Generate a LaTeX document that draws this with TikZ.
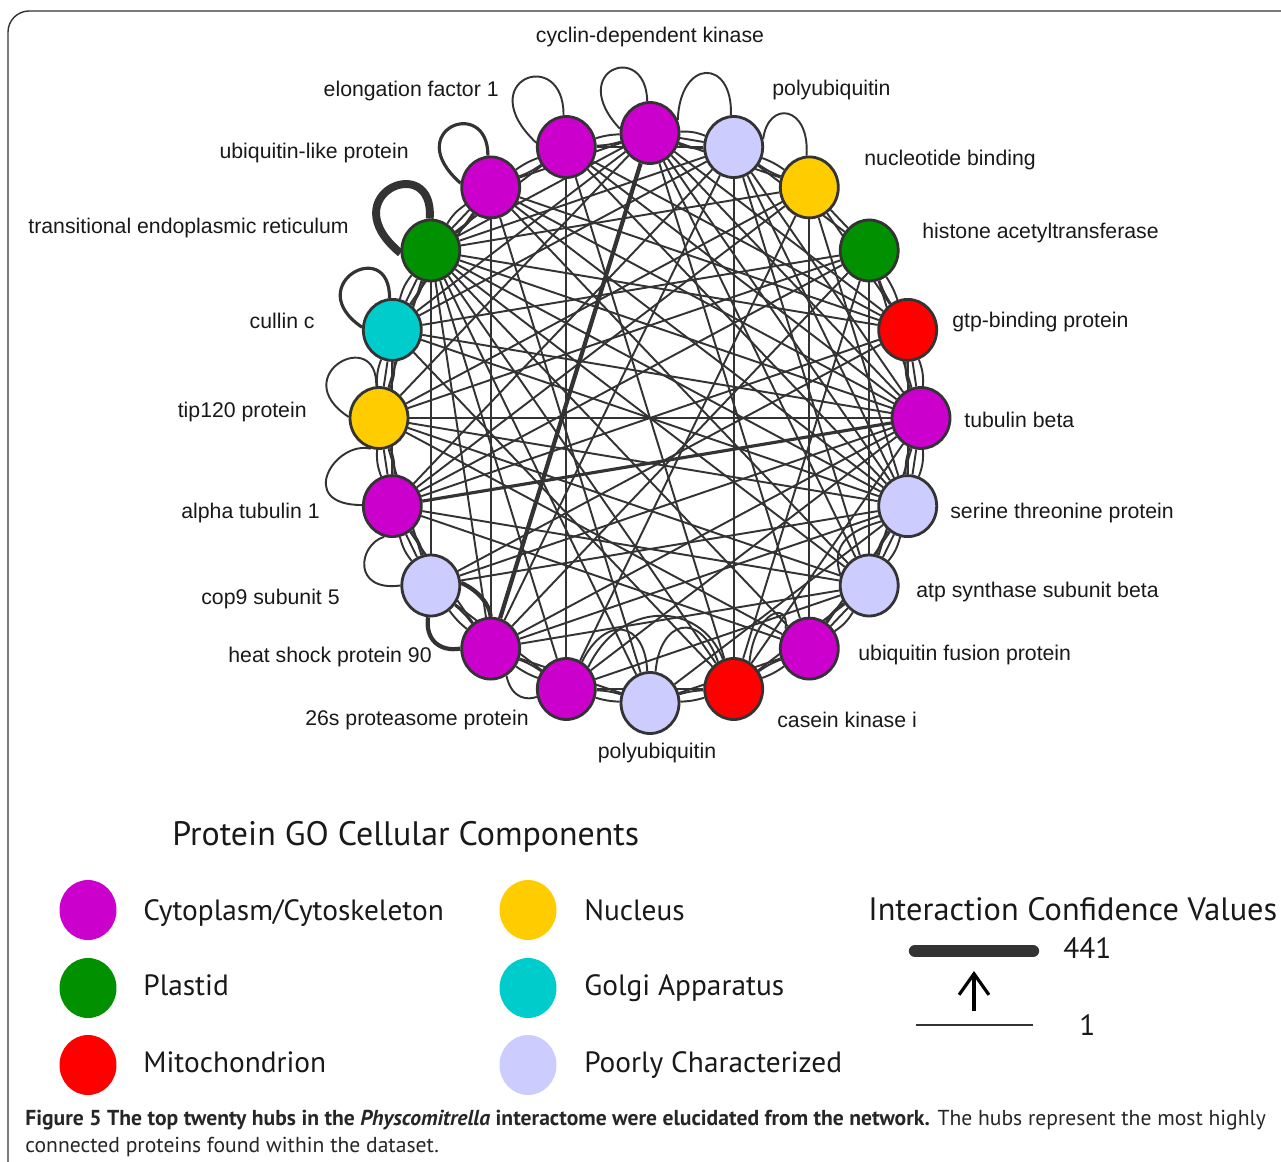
\documentclass[tikz,border=0pt]{standalone}
\usepackage{fontspec}
\setmainfont{Liberation Sans}
\newfontfamily\legfont{PT Sans}
\usetikzlibrary{shapes.geometric,backgrounds,arrows.meta}
\definecolor{edgec}{HTML}{333333}
\definecolor{cmag}{HTML}{CC00CC}
\definecolor{cgreen}{HTML}{009000}
\definecolor{cyel}{HTML}{FFCC00}
\definecolor{ccyan}{HTML}{00CCCC}
\definecolor{cred}{HTML}{FF0000}
\definecolor{clav}{HTML}{CCCCFF}
\begin{document}
\begin{tikzpicture}[x=0.02cm,y=0.02cm,
  hub/.style={ellipse, draw=edgec, line width=1.6pt, minimum width=1.16cm, minimum height=1.22cm, inner sep=0pt},
  lab/.style={font=\fontsize{12.1}{14}\selectfont, inner sep=0pt, text=black!90},
  edge/.style={draw=edgec, line width=1.1pt},
  medge/.style={draw=edgec, line width=1.8pt},
  tedge/.style={draw=edgec, line width=2.4pt},
  legdot/.style={ellipse, minimum width=1.14cm, minimum height=1.2cm, inner sep=0pt},
  legtxt/.style={font=\legfont\fontsize{16.7}{20}\selectfont, inner sep=0pt, anchor=base west, text=black!90},
  legtitle/.style={font=\legfont\fontsize{19.3}{22}\selectfont, inner sep=0pt, anchor=base west, text=black!90},
  inttitle/.style={font=\legfont\fontsize{18.4}{22}\selectfont, inner sep=0pt, anchor=base west, text=black!90},
  captxt/.style={font=\legfont\fontsize{12.3}{14}\selectfont, inner sep=0pt, anchor=base west, text=black!85}]
\useasboundingbox (0,0) rectangle (1281,-1162);
% hubs
\node[hub, fill=cmag]  (cdk)  at (650,-133) {};
\node[hub, fill=clav]  (pubA) at (733.7,-147) {};
\node[hub, fill=cyel]  (nuc)  at (809.3,-187.4) {};
\node[hub, fill=cgreen](hat)  at (869.2,-250.5) {};
\node[hub, fill=cred]  (gtp)  at (907.7,-329.9) {};
\node[hub, fill=cmag]  (tubb) at (921,-418) {};
\node[hub, fill=clav]  (ser)  at (907.7,-506.1) {};
\node[hub, fill=clav]  (atp)  at (869.2,-585.5) {};
\node[hub, fill=cmag]  (ufp)  at (809.3,-648.6) {};
\node[hub, fill=cred]  (ck)   at (733.7,-689) {};
\node[hub, fill=clav]  (pubB) at (650,-703) {};
\node[hub, fill=cmag]  (pts)  at (566.3,-689) {};
\node[hub, fill=cmag]  (hsp)  at (490.7,-648.6) {};
\node[hub, fill=clav]  (cop)  at (430.8,-585.5) {};
\node[hub, fill=cmag]  (alt)  at (392.3,-506.1) {};
\node[hub, fill=cyel]  (tip)  at (379,-418) {};
\node[hub, fill=ccyan] (cul)  at (392.3,-329.9) {};
\node[hub, fill=cgreen](ter)  at (430.8,-250.5) {};
\node[hub, fill=cmag]  (ubl)  at (490.7,-187.4) {};
\node[hub, fill=cmag]  (ef)   at (566.3,-147) {};
\begin{scope}[on background layer]
\draw[edgec, line width=0.8pt, rounded corners=12] (8,-1175) -- (8,-11) -- (1295,-11);
% neighbours, triple
\foreach \a/\b in {cdk/pubA, ubl/ter, ter/cul, cul/tip, tip/alt, alt/cop, ufp/atp, atp/ser, ser/tubb, tubb/gtp}{
  \draw[edge] (\a) -- (\b);
  \draw[edge] (\a) to[bend left=12] (\b);
  \draw[edge] (\a) to[bend right=12] (\b);}
% neighbours, double
\foreach \a/\b in {cdk/ef, pubA/nuc, ef/ubl, cop/hsp, hsp/pts, pts/pubB, pubB/ck, ck/ufp, gtp/hat}{
  \draw[edge] (\a) to[bend left=7] (\b);
  \draw[edge] (\a) to[bend right=7] (\b);}
\draw[edge] (hat) -- (nuc);
% second neighbours
\foreach \a/\b in {cdk/nuc, cdk/ubl, pubA/hat, pubA/ef, ef/ter, ubl/cul, ter/tip, cul/alt, tip/cop, alt/hsp, cop/pts, hsp/pubB, pts/ck, pubB/ufp, ck/atp, ufp/ser, atp/tubb, ser/gtp, tubb/hat, gtp/nuc}
  \draw[edge] (\a) -- (\b);
% long chords
\foreach \a/\b in {cdk/ter, cdk/cul, cdk/tip, cdk/gtp, cdk/tubb, cdk/ser, cdk/atp, cdk/ufp,
  pubA/ck, pubA/ter, pubA/cul, pubA/alt, pubA/tubb, pubA/ser, pubA/atp, pubA/hsp,
  nuc/ufp, nuc/ter, nuc/tip, nuc/alt, nuc/pts, nuc/ser,
  hat/atp, hat/tip, hat/cul, hat/alt, hat/hsp, hat/ck,
  gtp/ter, gtp/ubl, gtp/alt, gtp/cop, gtp/ef,
  tubb/tip, tubb/cul, tubb/ter, tubb/ubl, tubb/ef, tubb/cop, tubb/hsp, tubb/pts, tubb/ck,
  ser/ter, ser/cul, ser/tip, ser/cop, ser/hsp, ser/ubl, ser/ef, ser/pubB,
  atp/ter, atp/tip, atp/alt, atp/hsp, atp/ubl, atp/pts,
  ufp/tip, ufp/alt, ufp/ter,
  ck/ter, ck/cul, ck/ef,
  pubB/ter, pubB/ubl,
  pts/ter, pts/ef,
  hsp/ubl, hsp/ter, cop/ter}
  \draw[edge] (\a) -- (\b);
\draw[tedge] (hsp) -- (cdk);
\draw[medge] (alt) -- (tubb);
% loops and outer arcs
\draw[edge] (ef.95) .. controls (564,-45) and (470,-80) .. (ef.172);
\draw[edge] (cdk.95) .. controls (646,-40) and (565,-70) .. (cdk.172);
\draw[edge] (pubA.95) .. controls (733,-58) and (680,-58) .. (cdk.25);
\draw[edge] (nuc.95) .. controls (810,-105) and (768,-100) .. (pubA.15);
\draw[medge] (ubl.95) .. controls (488,-95) and (400,-130) .. (ubl.172);
\draw[draw=edgec, line width=4.5pt] (ter.92) .. controls (435,-150) and (330,-195) .. (ter.185);
\draw[medge] (cul.95) .. controls (390,-235) and (300,-285) .. (cul.175);
\draw[edge] (tip.95) .. controls (378,-325) and (285,-375) .. (tip.178);
\draw[edge] (tip.255) .. controls (335,-440) and (295,-505) .. (alt.178);
\draw[edge] (alt.255) .. controls (358,-545) and (352,-592) .. (cop.180);
\draw[tedge] (cop.265) .. controls (425,-640) and (440,-652) .. (hsp.180);
\draw[tedge] (cop.5) .. controls (478,-590) and (490,-605) .. (hsp.90);
\draw[edge] (hsp.300) .. controls (512,-700) and (528,-700) .. (pts.195);
\draw[edge] (pts.60) .. controls (605,-615) and (645,-620) .. (pubB.95);
\draw[edge] (ck.120) .. controls (700,-610) and (660,-620) .. (pubB.80);
\draw[edge] (ck.60) .. controls (755,-610) and (790,-600) .. (ufp.140);
\draw[edge] (pts.45) .. controls (620,-600) and (700,-600) .. (ck.110);
\draw[edge] (atp.160) .. controls (830,-545) and (850,-530) .. (ser.210);
\end{scope}
% labels
\node[lab, anchor=base] (l1) at (650,-43) {cyclin-dependent kinase};
\node[lab, anchor=base east] (l2) at (499,-97) {elongation factor 1};
\node[lab, anchor=base west] (l3) at (772,-96) {polyubiquitin};
\node[lab, anchor=base east] (l4) at (409,-159) {ubiquitin-like protein};
\node[lab, anchor=base west] (l5) at (864,-166) {nucleotide binding};
\node[lab, anchor=base east] (l6) at (349,-234) {transitional endoplasmic reticulum};
\node[lab, anchor=base west] (l7) at (922,-238) {histone acetyltransferase};
\node[lab, anchor=base east] (l8) at (315,-328) {cullin c};
\node[lab, anchor=base west] (l9) at (952,-327) {gtp-binding protein};
\node[lab, anchor=base east] (l10) at (307,-417) {tip120 protein};
\node[lab, anchor=base west] (l11) at (964,-427) {tubulin beta};
\node[lab, anchor=base east] (l12) at (320,-518) {alpha tubulin 1};
\node[lab, anchor=base west] (l13) at (950,-518) {serine threonine protein};
\node[lab, anchor=base east] (l14) at (340,-604) {cop9 subunit 5};
\node[lab, anchor=base west] (l15) at (916,-597) {atp synthase subunit beta};
\node[lab, anchor=base east] (l16) at (432,-662) {heat shock protein 90};
\node[lab, anchor=base west] (l17) at (858,-660) {ubiquitin fusion protein};
\node[lab, anchor=base east] (l18) at (529,-725) {26s proteasome protein};
\node[lab, anchor=base] (l19) at (657,-758) {polyubiquitin};
\node[lab, anchor=base west] (l20) at (777,-727) {casein kinase i};
% legend
\node[legtitle] (lt) at (172,-845) {Protein GO Cellular Components};
\node[legdot, fill=cmag]  (d1) at (88,-910) {};
\node[legdot, fill=cgreen](d2) at (88,-988) {};
\node[legdot, fill=cred]  (d3) at (88,-1065) {};
\node[legdot, fill=cyel]  (d4) at (528,-910) {};
\node[legdot, fill=ccyan] (d5) at (528,-988) {};
\node[legdot, fill=clav]  (d6) at (528,-1065) {};
\node[legtxt] (t1) at (143,-920) {Cytoplasm/Cytoskeleton};
\node[legtxt] (t2) at (143,-995) {Plastid};
\node[legtxt] (t3) at (143,-1072) {Mitochondrion};
\node[legtxt] (t4) at (584,-920) {Nucleus};
\node[legtxt] (t5) at (584,-995) {Golgi Apparatus};
\node[legtxt] (t6) at (584,-1072) {Poorly Characterized};
\node[inttitle] (it) at (868,-920) {Interaction Confidence Values};
\coordinate (w1a) at (915,-951); \coordinate (w1b) at (1033,-951);
\draw[edgec, line width=7pt, line cap=round] (w1a) -- (w1b);
\coordinate (w2a) at (916,-1025); \coordinate (w2b) at (1033,-1025);
\draw[edgec, line width=1.5pt] (w2a) -- (w2b);
\coordinate (arA) at (974,-1011); \coordinate (arB) at (974,-971);
\draw[black, line width=1.8pt, -{Straight Barb[length=12pt,width=17pt]}] (arA) -- (arB);
\node[legtxt] (v1) at (1063,-958) {441};
\node[legtxt] (v2) at (1079,-1035) {1};
% caption
\node[captxt] (c1) at (25,-1125) {\textbf{Figure 5 The top twenty hubs in the \textit{Physcomitrella} interactome were elucidated from the network.} The hubs represent the most highly};
\node[captxt] (c2) at (25,-1152) {connected proteins found within the dataset.};
\end{tikzpicture}
\end{document}
